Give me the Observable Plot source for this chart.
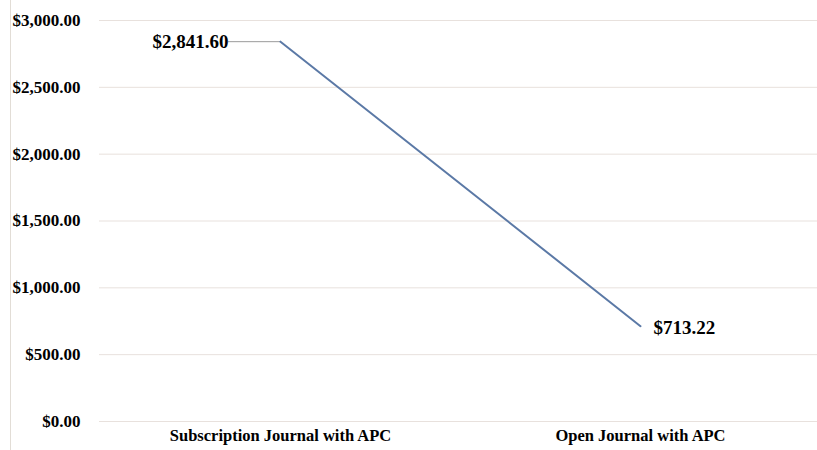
<!DOCTYPE html>
<html>
<head>
<meta charset="utf-8">
<script src="https://cdn.jsdelivr.net/npm/d3@7"></script>
<script src="https://cdn.jsdelivr.net/npm/@observablehq/plot@0.6"></script>
<style>
  html, body { margin: 0; padding: 0; background: #fff; }
  #wrap { position: relative; width: 817px; height: 450px; overflow: hidden; }
  #vline { position: absolute; left: 10px; top: 0; width: 0; height: 450px; border-left: 1px solid #e2ddd6; }
</style>
</head>
<body>
<div id="wrap"><div id="vline"></div></div>
<script>
const categories = ["Subscription Journal with APC", "Open Journal with APC"];
const costs = [2841.60, 713.22];
const yTicks = [0, 500, 1000, 1500, 2000, 2500, 3000];

const data = categories.map((c, i) => ({category: c, cost: costs[i]}));
const money = v => "$" + d3.format(",.2f")(v);

const chart = Plot.plot({
  width: 817,
  height: 450,
  marginLeft: 99,
  marginRight: 0,
  marginTop: 20,
  marginBottom: 29,
  style: {fontFamily: "'Liberation Serif', 'Times New Roman', serif", background: "transparent"},
  x: {type: "band", domain: categories, padding: 0, range: [100, 820], label: null},
  y: {domain: [0, 3000], label: null},
  marks: [
    Plot.ruleY(yTicks, {y: d => d, stroke: "#e8e1dd", strokeWidth: 1}),
    Plot.axisY({ticks: yTicks, tickFormat: money, tickSize: 0, tickPadding: 0, dx: -19, fontSize: 17, fontWeight: "bold", fill: "#000", label: null}),
    Plot.axisX({tickSize: 0, tickPadding: 8, fontSize: 16.5, fontWeight: "bold", fill: "#000", label: null}),
    Plot.tickY([data[0]], {x: "category", y: "cost", stroke: "#9a9a9a", strokeWidth: 1, insetLeft: 128, insetRight: 180}),
    Plot.line(data, {x: "category", y: "cost", stroke: "#5b79a6", strokeWidth: 2}),
    Plot.text([data[0]], {x: "category", y: "cost", text: d => money(d.cost), textAnchor: "end", dx: -52, fontSize: 19, fontWeight: "bold", fill: "#000"}),
    Plot.text([data[1]], {x: "category", y: "cost", text: d => money(d.cost), textAnchor: "start", dx: 13, dy: 2, fontSize: 19, fontWeight: "bold", fill: "#000"})
  ]
});
document.getElementById("wrap").appendChild(chart);
chart.style.position = "absolute";
chart.style.left = "0";
chart.style.top = "0";
</script>
</body>
</html>
